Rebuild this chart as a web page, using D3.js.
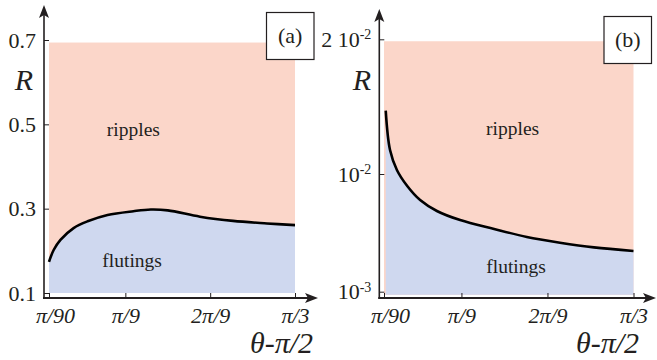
<!DOCTYPE html>
<html><head><meta charset="utf-8">
<script src="https://cdn.jsdelivr.net/npm/d3@7"></script>
<style>
body{margin:0;background:#fff}
svg{display:block}
svg text{font-family:"Liberation Serif","Times New Roman",Tinos,"DejaVu Serif",serif !important;fill:#231f20}
</style>
</head><body>
<svg id="chart" width="657" height="360" font-family="Liberation Serif, Times New Roman, DejaVu Serif, serif"></svg>
<script>
// ---------- data ----------
const angleTicks = [2, 20, 40, 60];                 // degrees (θ-π/2)
const angleTickLabels = ["π/90", "π/9", "2π/9", "π/3"];

const rTicksA = [0.1, 0.3, 0.5, 0.7];
const rTickLabelsA = [["0.1"], ["0.3"], ["0.5"], ["0.7"]];
const rTicksB = [0.001, 0.01, 0.02];
const rTickLabelsB = [["10", "-3"], ["10", "-2"], ["2 10", "-2"]];

// panel (a): boundary between ripples (above) and flutings (below)
const angleA    = [2, 3.1, 4.7, 7.8, 11.1, 15.8, 21.9, 26, 30, 37.6, 45.4, 53.4, 60];
const boundaryA = [0.174, 0.202, 0.226, 0.254, 0.270, 0.285, 0.294, 0.298, 0.296, 0.281, 0.271, 0.265, 0.261];
// panel (b)
const angleB    = [2.4, 3.4, 5.0, 7.4, 10.4, 14.3, 19.7, 27.6, 35.2, 42.9, 50.8, 60];
const boundaryB = [0.01385, 0.01131, 0.01021, 0.00791, 0.00601, 0.00485, 0.00406, 0.00341, 0.00292, 0.00261, 0.00238, 0.00222];

const regionRangeA = [0.1, 0.694];
const regionRangeB = [0.00094, 0.0198];
const regionNames = ["ripples", "flutings"];
const panelTags = ["(a)", "(b)"];
const yTitle = "R";
const xTitle = "θ-π/2";

// ---------- drawing ----------
const FONT = "Liberation Serif, Times New Roman, DejaVu Serif, serif";
const svg = d3.select("#chart");
const colRipple = "#fbd6c9", colFluting = "#cfd8ef", ink = "#231f20";

function arrowUp(g, x, tipY) {
  g.append("path").attr("d", `M${x},${tipY} L${x-5},${tipY+13} L${x},${tipY+10} L${x+5},${tipY+13} Z`).attr("fill", ink);
}
function arrowRight(g, tipX, y) {
  g.append("path").attr("d", `M${tipX},${y} L${tipX-13},${y-5} L${tipX-10},${y} L${tipX-13},${y+5} Z`).attr("fill", ink);
}

function panel(cfg) {
  const g = svg.append("g");
  const x = cfg.x, y = cfg.y;
  const pts = cfg.angles.map((a, i) => [a, cfg.boundary[i]]);
  const [rLo, rHi] = cfg.region;
  const [a0, a1] = x.domain();
  const crv = d3.curveCatmullRom.alpha(0.5);

  g.append("rect")
    .attr("x", x(a0)).attr("y", y(rHi))
    .attr("width", x(a1) - x(a0)).attr("height", y(rLo) - y(rHi))
    .attr("fill", colRipple);
  g.append("path").datum(pts)
    .attr("d", d3.area().x(d => x(d[0])).y0(y(rLo)).y1(d => y(d[1])).curve(crv))
    .attr("fill", colFluting);
  g.append("path").datum(pts)
    .attr("d", d3.line().x(d => x(d[0])).y(d => y(d[1])).curve(crv))
    .attr("fill", "none").attr("stroke", "#000").attr("stroke-width", 2.6);

  g.append("text").attr("x", x(cfg.rippleAt[0])).attr("y", y(cfg.rippleAt[1]))
    .attr("text-anchor", "middle").attr("font-size", 19.5).attr("font-family", FONT).text(regionNames[0]);
  g.append("text").attr("x", x(cfg.flutingAt[0])).attr("y", y(cfg.flutingAt[1]))
    .attr("text-anchor", "middle").attr("font-size", 19.5).attr("font-family", FONT).text(regionNames[1]);

  const ax = cfg.axisX, ay = cfg.axisY;

  const yAxis = g.append("g").attr("transform", `translate(${ax},0)`)
    .call(d3.axisLeft(y).tickValues(cfg.rTicks).tickSize(-5).tickPadding(8).tickFormat(() => ""));
  yAxis.attr("font-family", FONT);
  yAxis.select(".domain").remove();
  yAxis.selectAll(".tick line").attr("stroke", ink).attr("stroke-width", 1);
  yAxis.selectAll(".tick text").attr("font-size", 22).attr("fill", ink).attr("font-family", FONT)
    .each(function(d, i) {
      const t = d3.select(this);
      const lab = cfg.rLabels[i];
      t.append("tspan").text(lab[0]);
      if (lab[1]) t.append("tspan").attr("font-size", 14).attr("dy", "-0.55em").text(lab[1]);
    });

  const xAxis = g.append("g").attr("transform", `translate(0,${ay})`)
    .call(d3.axisBottom(x).tickValues(angleTicks).tickSize(-5).tickPadding(9)
      .tickFormat((d, i) => angleTickLabels[i]));
  xAxis.attr("font-family", FONT);
  xAxis.select(".domain").remove();
  xAxis.selectAll(".tick line").attr("stroke", ink).attr("stroke-width", 1);
  xAxis.selectAll(".tick text").attr("font-size", 22).attr("font-style", "italic").attr("fill", ink)
    .attr("font-family", FONT).attr("dx", (d, i) => i === 0 ? 6 : 0);

  g.append("line").attr("x1", ax).attr("x2", ax).attr("y1", cfg.yTip + 8).attr("y2", ay + 1)
    .attr("stroke", ink).attr("stroke-width", 1.6);
  g.append("line").attr("x1", ax - 1).attr("x2", cfg.xTip - 8).attr("y1", ay).attr("y2", ay)
    .attr("stroke", ink).attr("stroke-width", 1.8);
  arrowUp(g, ax, cfg.yTip);
  arrowRight(g, cfg.xTip, ay);

  g.append("text").attr("x", cfg.rTitleX).attr("y", 90).attr("text-anchor", "middle")
    .attr("font-size", 30).attr("font-style", "italic").attr("font-family", FONT).text(yTitle);
  g.append("text").attr("x", cfg.xTitleEnd).attr("y", 353).attr("text-anchor", "end")
    .attr("font-size", 30).attr("font-style", "italic").attr("font-family", FONT).text(xTitle);

  const b = cfg.box;
  g.append("rect").attr("x", b[0]).attr("y", b[1]).attr("width", b[2]).attr("height", b[3])
    .attr("fill", "#fff").attr("stroke", ink).attr("stroke-width", 1.2);
  g.append("text").attr("x", b[0] + b[2] / 2).attr("y", b[1] + b[3] / 2 + 7)
    .attr("text-anchor", "middle").attr("font-size", 22).attr("font-family", FONT).text(cfg.tag);
}

panel({
  x: d3.scaleLinear().domain([2, 60]).range([49, 295]),
  y: d3.scaleLinear().domain([0.1, 0.7]).range([293, 40]),
  angles: angleA, boundary: boundaryA, region: regionRangeA,
  rTicks: rTicksA, rLabels: rTickLabelsA,
  rippleAt: [21.9, 0.472], flutingAt: [21.6, 0.162],
  axisX: 44, axisY: 298, yTip: 5, xTip: 318,
  rTitleX: 24, xTitleEnd: 313,
  box: [266.5, 12.5, 47.5, 47], tag: panelTags[0]
});

panel({
  x: d3.scaleLinear().domain([2, 60]).range([384, 633.5]),
  y: d3.scaleLog().domain([0.001, 0.01, 0.02]).range([291.7, 174, 39.3]),
  angles: angleB, boundary: boundaryB, region: regionRangeB,
  rTicks: rTicksB, rLabels: rTickLabelsB,
  rippleAt: [31.9, 0.01222], flutingAt: [32.7, 0.00144],
  axisX: 379.3, axisY: 298, yTip: 9, xTip: 656,
  rTitleX: 362, xTitleEnd: 639,
  box: [604, 16.5, 47.5, 47], tag: panelTags[1]
});
</script>
</body></html>
